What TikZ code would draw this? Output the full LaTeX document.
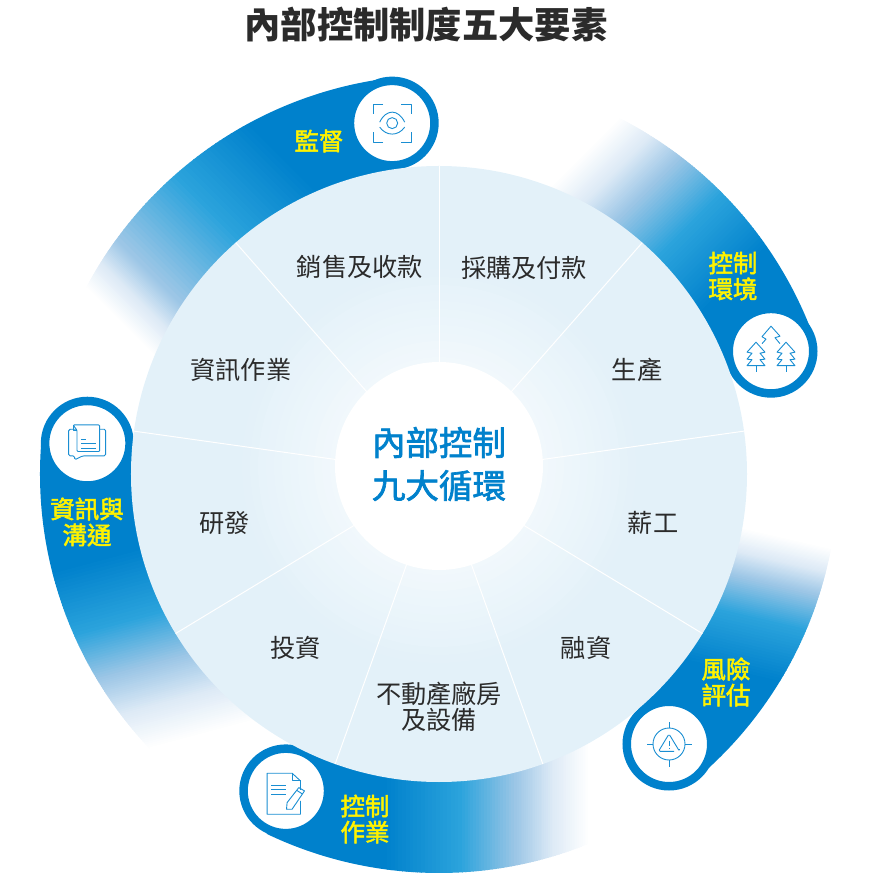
\documentclass[tikz,border=0pt]{standalone}
\usepackage{fontspec}
\setmainfont{Noto Sans CJK TC}
\newfontfamily\heavycjk[FakeBold=2]{Noto Sans CJK TC}
\usepackage{xcolor}
\usetikzlibrary{positioning,calc}

\definecolor{bandblue}{HTML}{0081CC}
\definecolor{bandcyan}{HTML}{2BA3DC}
\definecolor{bandpale}{HTML}{9CC6E6}
\definecolor{bandmist}{HTML}{DDEAF6}
\definecolor{diskouter}{HTML}{E3F1F9}
\definecolor{diskinner}{HTML}{F1F8FC}
\definecolor{iconblue}{HTML}{1A8ED2}
\definecolor{labelyellow}{HTML}{FFF200}
\definecolor{inktext}{HTML}{2B2B2B}

% band with a straight fade: angle from, angle to, fade direction, dark end, white end, two stops
\newcommand{\fadeband}[7]{
  \begin{scope}
    \clip (#1:295pt) arc[start angle=#1,end angle=#2,radius=295pt]
      -- (#2:399pt) arc[start angle=#2,end angle=#1,radius=399pt] -- cycle;
    \begin{scope}[rotate=#3]
      \fill[bandblue] (-520,-520) rectangle (#4+.8,520);
      \foreach \ca/\cb/\ta/\tb in {bandblue/bandcyan/0/#6, bandcyan/bandpale/#6/#7, bandpale/bandmist/#7/{(#7+(1-#7)*.5)}, bandmist/white/{(#7+(1-#7)*.5)}/1}
        \foreach \k in {1,...,20} {
          \pgfmathsetmacro{\sk}{#4+(#5-#4)*(\ta+(\tb-\ta)*(\k-1)/20)}
          \pgfmathsetmacro{\sn}{#4+(#5-#4)*(\ta+(\tb-\ta)*\k/20)}
          \pgfmathtruncatemacro{\pc}{100*\k/20}
          \fill[\cb!\pc!\ca] (\sk,-520) rectangle (\sn+.8,520);
        }
    \end{scope}
  \end{scope}
}

\begin{document}
\begin{tikzpicture}[x=1pt, y=1pt,
    bandcap/.style={circle,draw=bandblue,fill=white,line width=8.5pt,inner sep=0pt,outer sep=0pt,minimum size=84.5pt},
    itemlabel/.style={font=\fontsize{25.2}{26}\selectfont,text=inktext,align=center,inner sep=0pt},
    bandlabel/.style={font=\fontsize{24.5}{26}\selectfont\heavycjk,text=labelyellow,align=center,inner sep=0pt},
    iconline/.style={draw=iconblue,line width=.9pt,line join=round}]
  \useasboundingbox (-439,-411) rectangle (434,474);

  % Title on top of the ring
  \node[font=\fontsize{36.3}{40}\selectfont\bfseries,text=inktext,inner sep=0pt] (title) at (-13,449) {內部控制制度五大要素};

  % Five fading bands, all running counterclockwise from their caps
  \fadeband{97.6}{165}{225}{-112}{118}{.39}{.76}
  \fadeband{20.3}{72}{135}{-70}{125}{.36}{.64}
  \fadeband{-49.6}{10}{77}{-125}{16}{.40}{.66}
  \fadeband{244.4}{305}{0}{-52}{151}{.37}{.64}
  \fadeband{175}{235}{-75}{-4}{191}{.34}{.59}

  % Caps at the head of each band, under the disk
  \node[bandcap] (monitorcap) at (97.6:354) {};
  \node[bandcap] (envcap) at (20.3:354) {};
  \node[bandcap] (riskcap) at (230,-270) {};
  \node[bandcap] (opscap) at (244.2:352) {};
  \node[bandcap] (infocap) at (175:353) {};

  % Disk with its nine sectors
  \fill[diskouter] (0,0) circle (308pt);
  \foreach \k in {1,...,12} {
    \pgfmathtruncatemacro{\pc}{100*\k/12}
    \fill[diskinner!\pc!diskouter] (0,8) circle ({205-8*\k});
  }
  \foreach \a in {90,48.7,8,-31.2,-70.3,-109.7,-148.8,172,131.3}
    \draw[white,line width=1pt] (0,0) -- (\a:308pt);

  \node[circle,fill=white,inner sep=0pt,minimum size=208pt] (hub) at (0,8) {};
  \node[font=\fontsize{33.5}{42}\selectfont\heavycjk,text=bandblue,align=center,inner sep=0pt] (hubtext) at (0,10) {內部控制\\[1pt]九大循環};

  % Sector labels
  \node[itemlabel] (sales) at (-79,207) {銷售及收款};
  \node[itemlabel] (purchase) at (85,206) {採購及付款};
  \node[itemlabel] (production) at (198,104) {生產};
  \node[itemlabel] (payroll) at (214,-49) {薪工};
  \node[itemlabel] (financing) at (147,-174) {融資};
  \node[itemlabel] (property) at (0,-233) {不動產廠房\\及設備};
  \node[itemlabel] (investment) at (-143,-174) {投資};
  \node[itemlabel] (research) at (-214,-49) {研發};
  \node[itemlabel] (infosystem) at (-198,104) {資訊作業};

  \node[bandlabel] (monitor) at (-120,333) {監督};
  \node[bandlabel] (env) at (294,198) {控制\\環境};
  \node[bandlabel] (risk) at (287,-208) {風險\\評估};
  \node[bandlabel] (ops) at (-74,-345) {控制\\作業};
  \node[bandlabel] (info) at (-352,-48) {資訊與\\溝通};

  % Eye
  \begin{scope}[shift={(monitorcap.center)}]
    \foreach \sx/\sy in {1/1,-1/1,-1/-1,1/-1}
      \draw[iconline,xscale=\sx,yscale=\sy] (9,19) -- (19,19) -- (19,9);
    \draw[iconline] (0,0) circle (5.5pt);
    \draw[iconline] (-12.5,1) .. controls (-6,14.3) and (6,14.3) .. (12.5,1);
    \draw[iconline] (-12.5,-4) .. controls (-6,-13.3) and (6,-13.3) .. (12.5,-4);
  \end{scope}

  % Trees
  \begin{scope}[shift={(envcap.center)}]
    \foreach \tx in {-15,15} {
      \draw[iconline] (\tx,9) -- ++(-9,-10) -- ++(5,-1) -- ++(-5,-6) -- ++(5,-.5) -- ++(-5,-6) -- ++(18,0) -- ++(-5,6) -- ++(5,.5) -- ++(-5,6) -- ++(5,1) -- cycle;
      \draw[iconline] (\tx,-14) -- ++(0,-6.5);
    }
    \draw[iconline] (-9,7.5) -- (-5,12) -- (-9,14.5) -- (0,25) -- (9,15) -- (4,13.5) -- (9,7.5);
  \end{scope}

  % Target with warning sign
  \begin{scope}[shift={(riskcap.center)}]
    \draw[iconline] (0,0) circle (16pt);
    \foreach \r in {0,90,180,270}
      \draw[iconline,rotate=\r] (16,0) -- (22.5,0);
    \draw[iconline,rounded corners=1.5pt] (5,-7.3) -- (-10.5,-7.3) -- (0,10) -- (10.5,-7.3) -- (10.5,-5);
    \draw[iconline] (0,3.5) -- (0,-1.5);
    \draw[iconline] (0,-4) -- (0,-5);
  \end{scope}

  % Page and pencil
  \begin{scope}[shift={(opscap.center)}]
    \draw[iconline] (14.7,1) -- (14.7,10) -- (6.3,17.7) -- (-18.7,17.7) -- (-18.7,-23.3) -- (14.7,-23.3) -- (14.7,-10);
    \draw[iconline] (6.3,17.7) -- (6.3,10) -- (14.7,10);
    \foreach \ly in {5.7,1.3,-3.3}
      \draw[iconline] (-14.7,\ly) -- (-.3,\ly);
    \draw[iconline] (.7,-18.3) -- (1.3,-11.7) -- (13,3.3) -- (18.7,0) -- (6.3,-18.3) -- cycle;
    \draw[iconline] (11,.5) -- (16.5,-3);
  \end{scope}

  % Speech bubble with page
  \begin{scope}[shift={(infocap.center)}]
    \draw[iconline,rounded corners=1.5pt] (-10,14) -- (-18.7,14) -- (-18.7,-12.7) -- (-12.7,-12.7) -- (-12.7,-16.7) -- (-5,-12.7) -- (18.3,-12.7) -- (18.3,14) -- (12.3,14);
    \draw[iconline,fill=white,rounded corners=1pt] (-10.3,-8.3) -- (-10.3,13) -- (-14.3,18.3) -- (12.3,18.3) -- (12.3,-8.3) -- cycle;
    \draw[iconline] (-14.3,18.3) -- (-14.3,13) -- (-10.3,13);
    \draw[iconline] (-6,3.3) -- (-1.7,3.3);
    \draw[iconline] (-6,-.7) -- (9,-.7);
    \draw[iconline] (-6,-5) -- (9,-5);
  \end{scope}
\end{tikzpicture}
\end{document}
